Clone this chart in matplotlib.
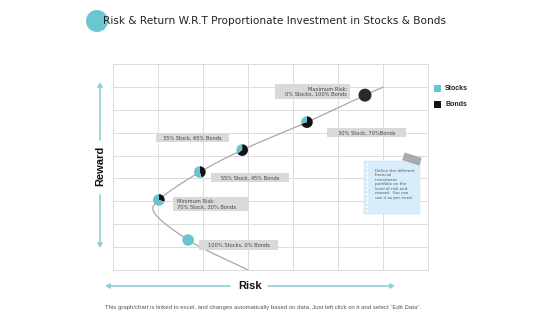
import numpy as np
import matplotlib
matplotlib.use("Agg")
import matplotlib.pyplot as plt
from matplotlib.patches import Wedge, Rectangle, Ellipse, FancyArrowPatch, Circle
import matplotlib.transforms as mtransforms

# ---------------- data ----------------
labels = ["100% Stocks, 0% Bonds", "Minimum Risk:\n70% Stock, 30% Bonds",
          "55% Stock, 45% Bonds", "35% Stock, 65% Bonds",
          "30% Stock, 70%Bonds", "Maximum Risk:\n0% Stocks, 100% Bonds"]
stocks_pct = [100, 70, 55, 35, 30, 0]
bonds_pct = [0, 30, 45, 65, 70, 100]
risk = [1.67, 1.02, 1.93, 2.87, 4.31, 5.60]
reward = [1.31, 3.06, 4.28, 5.24, 6.46, 7.64]
curve_risk = [3.0, 1.67, 0.89, 1.02, 1.93, 2.87, 4.31, 5.60, 6.0]
curve_reward = [0.0, 1.31, 2.62, 3.06, 4.28, 5.24, 6.46, 7.64, 7.99]
legend_names = ["Stocks", "Bonds"]
title = "Risk & Return W.R.T Proportionate Investment in Stocks & Bonds"
note = ("Define the different\nfinancial\ninvestment\nportfolio on the\n"
        "level of risk and\nreward.  You can\nuse it as per need.")
footer = ("This graph/chart is linked to excel, and changes automatically based on data. "
          "Just left click on it and select \u201cEdit Data\u201d.")

CYAN = "#69c4d0"
BLACK = "#111111"
W, H = 560, 315

fig = plt.figure(figsize=(W / 100, H / 100), dpi=100)


def px(x, y):
    return (x / W, 1 - y / H)


ax = fig.add_axes([113 / W, 1 - 270 / H, 315 / W, 206 / H])
ax.set_xlim(0, 7)
ax.set_ylim(0, 9)
ax.set_xticks(np.arange(0, 8))
ax.set_yticks(np.arange(0, 10))
ax.grid(True, color="#dcdcdc", lw=0.7)
ax.set_axisbelow(True)
ax.tick_params(length=0, labelbottom=False, labelleft=False)
for s in ax.spines.values():
    s.set_color("#dcdcdc")
    s.set_linewidth(0.7)


# smooth curve (centripetal Catmull-Rom through the curve points)
def catmull(xs, ys, n=30):
    P = np.column_stack([xs, ys]).astype(float)
    P = np.vstack([2 * P[0] - P[1], P, 2 * P[-1] - P[-2]])
    out = []
    for i in range(1, len(P) - 2):
        p0, p1, p2, p3 = P[i - 1], P[i], P[i + 1], P[i + 2]
        t0 = 0
        t1 = t0 + np.linalg.norm(p1 - p0) ** 0.5
        t2 = t1 + np.linalg.norm(p2 - p1) ** 0.5
        t3 = t2 + np.linalg.norm(p3 - p2) ** 0.5
        t = np.linspace(t1, t2, n)[:, None]
        A1 = (t1 - t) / (t1 - t0) * p0 + (t - t0) / (t1 - t0) * p1
        A2 = (t2 - t) / (t2 - t1) * p1 + (t - t1) / (t2 - t1) * p2
        A3 = (t3 - t) / (t3 - t2) * p2 + (t - t2) / (t3 - t2) * p3
        B1 = (t2 - t) / (t2 - t0) * A1 + (t - t0) / (t2 - t0) * A2
        B2 = (t3 - t) / (t3 - t1) * A2 + (t - t1) / (t3 - t1) * A3
        C = (t2 - t) / (t2 - t1) * B1 + (t - t1) / (t2 - t1) * B2
        out.append(C)
    return np.vstack(out)


c = catmull(curve_risk, curve_reward)
ax.plot(c[:, 0], c[:, 1], color="#a8a8a8", lw=0.9, zorder=2)

# pie markers
for i, (x, y, s, b) in enumerate(zip(risk, reward, stocks_pct, bonds_pct)):
    r = 0.065 if b == 100 else 0.058
    tr = fig.dpi_scale_trans + mtransforms.ScaledTranslation(x, y, ax.transData)
    fb = b / 100.0
    if fb <= 0:
        ax.add_patch(Circle((0, 0), r, transform=tr, facecolor=CYAN, edgecolor="none", zorder=4, clip_on=False))
    elif fb >= 1:
        ax.add_patch(Circle((0, 0), r, transform=tr, facecolor="#2a2a2a", edgecolor="none", zorder=4, clip_on=False))
    else:
        ax.add_patch(Wedge((0, 0), r, 90 - 360 * fb, 90, transform=tr, facecolor=BLACK,
                           edgecolor="none", zorder=4, clip_on=False))
        ax.add_patch(Wedge((0, 0), r, 90, 450 - 360 * fb, transform=tr, facecolor=CYAN,
                           edgecolor="none", zorder=4, clip_on=False))

# label boxes (pixel positions)
boxes = [
    (199, 240, 278, 250, "center"),
    (173, 197, 249, 211, "left"),
    (211, 173, 289, 182, "center"),
    (156, 134, 229, 142, "center"),
    (327, 128, 406, 137, "center"),
    (275, 84, 350, 99, "right"),
]
for (x0, y0, x1, y1, ha), lab in zip(boxes, labels):
    fig.add_artist(Rectangle(px(x0, y1), (x1 - x0) / W, (y1 - y0) / H, transform=fig.transFigure,
                             facecolor="#d9d9d9", edgecolor="none", zorder=5))
    if ha == "center":
        tx = (x0 + x1) / 2
    elif ha == "left":
        tx = x0 + 4
    else:
        tx = x1 - 3
    fig.text(*px(tx, (y0 + y1) / 2 + 0.3), lab, ha=ha, va="center", fontsize=3.7,
             color="#444444", linespacing=1.1, zorder=6, multialignment=ha)

# sticky note
fig.add_artist(Rectangle(px(364, 214), 56 / W, 53 / H, transform=fig.transFigure,
                         facecolor="#d7edfb", edgecolor="#c4dcea", lw=0.3, zorder=5))
for yy in np.arange(165, 212, 4.2):
    fig.add_artist(Ellipse(px(367, yy), 2.2 / W, 2.2 / H, transform=fig.transFigure,
                           facecolor="white", edgecolor="none", zorder=6))
tape_tr = mtransforms.Affine2D().rotate_deg_around(412, 159, 18) + \
    mtransforms.Affine2D().scale(1 / W, 1 / H) + mtransforms.Affine2D().scale(1, -1).translate(0, 1) + fig.transFigure
fig.add_artist(Rectangle((403, 155), 18, 8, transform=tape_tr, facecolor="#9e9e9e",
                         edgecolor="none", alpha=0.85, zorder=7))
fig.text(*px(375, 169), note, ha="left", va="top", fontsize=2.9, color="#555555",
         linespacing=1.15, zorder=7)

# legend
for name, col, yy in zip(legend_names, [CYAN, BLACK], [88.5, 104.5]):
    fig.add_artist(Rectangle(px(434, yy + 3.5), 7 / W, 7 / H, transform=fig.transFigure,
                             facecolor=col, edgecolor="none", zorder=5))
    fig.text(*px(445, yy), name, ha="left", va="center", fontsize=5, color="#222222",
             fontweight="bold", family="Liberation Sans")

# title
fig.add_artist(Ellipse(px(97, 21), 22 / W, 22 / H, transform=fig.transFigure,
                       facecolor="#6cc6d2", edgecolor="none", zorder=1))
fig.text(*px(103, 21), title, ha="left", va="center", fontsize=7.6, color="#222222", zorder=3)

# axis arrows
ACOL = "#8fd1d5"
for a, b in [((100, 140), (100, 82)), ((100, 195), (100, 248)),
             ((230, 286), (105, 286)), ((268, 286), (395, 286))]:
    fig.add_artist(FancyArrowPatch(px(*a), px(*b), transform=fig.transFigure,
                                   arrowstyle="-|>,head_length=2.5,head_width=1.4",
                                   mutation_scale=1, color=ACOL, lw=1.2,
                                   shrinkA=0, shrinkB=0))
fig.text(*px(100, 166), "Reward", rotation=90, ha="center", va="center", fontsize=8,
         fontweight="bold", family="Liberation Sans", color="#111111")
fig.text(*px(250, 286), "Risk", ha="center", va="center", fontsize=8,
         fontweight="bold", family="Liberation Sans", color="#111111")

fig.text(*px(105, 307), footer, ha="left", va="center", fontsize=4.3,
         family="Liberation Sans", color="#555555")

fig.savefig("out.png", dpi=100)
